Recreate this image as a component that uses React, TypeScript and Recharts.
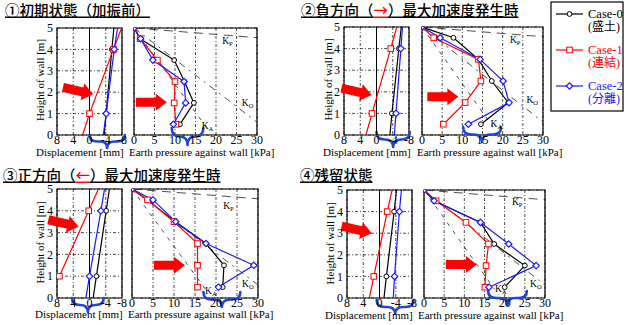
import React from 'react';
import { LineChart, Line, XAxis, YAxis, CartesianGrid, ReferenceLine, ReferenceArea, ReferenceDot } from 'recharts';

// ---------------- data ----------------
const PRESSURE_HEIGHTS = [5, 4.5, 3.5, 2.5, 1.5, 0.5];
const DISP_HEIGHTS = [5, 4, 1, 0];
const DISP_MEASURED = [false, true, true, false];

const DISP_TICKS = [8, 4, 0, -4, -8];
const PRESSURE_TICKS = [0, 5, 10, 15, 20, 25, 30];
const HEIGHT_TICKS = [0, 1, 2, 3, 4, 5];

const CASE_NAMES = ['Case-0', 'Case-1', 'Case-2'];
const CASE_SUBS = ['(盛土)', '(連結)', '(分離)'];

// ① 初期状態
const p1DispCase0 = [-6.0, -5.5, -4.1, -3.6];
const p1DispCase1 = [-7.9, -5.9, 0.0, 1.7];
const p1DispCase2 = [-6.9, -6.1, -4.1, -3.4];
const p1PresCase0 = [0, 1.5, 9.8, 12.3, 14.6, 11.2];
const p1PresCase1 = [0, 1.5, 5.7, 10.0, 9.8, 10.2];
const p1PresCase2 = [0, 1.6, 4.6, 12.2, 12.6, 9.6];

// ② 負方向
const p2DispCase0 = [-6.1, -5.5, -3.8, -3.3];
const p2DispCase1 = [-5.0, -3.5, 1.1, 2.6];
const p2DispCase2 = [-6.4, -6.0, -4.8, -4.4];
const p2PresCase0 = [0, 7.8, 14.0, 17.3, 21.4, 14.6];
const p2PresCase1 = [0, 2.9, 14.0, 14.6, 10.7, 5.3];
const p2PresCase2 = [0, 4.5, 14.4, 20.1, 21.6, 11.5];

// ③ 正方向
const p3DispCase0 = [-4.9, -4.1, -1.7, -0.9];
const p3DispCase1 = [-2.2, 0.2, 7.4, 9.8];
const p3DispCase2 = [-3.7, -2.8, 0.0, 0.9];
const p3PresCase0 = [0, 3.7, 10.2, 17.6, 21.9, 21.6];
const p3PresCase1 = [0, 3.7, 10.0, 15.6, 15.6, 15.6];
const p3PresCase2 = [0, 5.0, 10.4, 17.6, 29.0, 20.6];

// ④ 残留状態
const p4DispCase0 = [-4.2, -3.6, -1.7, -1.1];
const p4DispCase1 = [-3.1, -1.9, 1.4, 2.5];
const p4DispCase2 = [-5.4, -4.9, -3.7, -3.4];
const p4PresCase0 = [0, 2.5, 14.0, 17.4, 25.0, 20.0];
const p4PresCase1 = [0, 3.0, 10.4, 16.0, 15.4, 15.1];
const p4PresCase2 = [0, 2.5, 14.0, 21.0, 27.8, 16.1];

// earth-pressure coefficient reference lines [pressure, height]
const KP_LINE = [[0, 5], [30, 4.55]];
const K0_LINE = [[0, 5], [30, 0.6]];
const KA_LINE = [[0, 5], [17.5, 0.4]];

// ---------------- styles ----------------
const SERIF = '"Liberation Serif", "Times New Roman", serif';
const CJK = '"Noto Sans CJK JP", sans-serif';
const MIXED = '"Liberation Serif", "Noto Sans CJK JP", serif';
const RED = '#ff0000';
const BLUE = '#1a1aff';
const BRACE = '#2345d2';
const COLORS = ['#000000', RED, BLUE];
const KINDS = ['circle', 'square', 'diamond'];
const KEYS = ['c0', 'c1', 'c2'];

const ML = 26, MT = 12, MR = 14, XH = 30;

function Marker({ kind, cx, cy, color }: any) {
  if (kind === 'circle') return <circle cx={cx} cy={cy} r={2.4} fill="#fff" stroke={color} strokeWidth={1} />;
  if (kind === 'square')
    return <rect x={cx - 2.8} y={cy - 2.8} width={5.6} height={5.6} fill="#fff" stroke={color} strokeWidth={1} />;
  const s = 3.2;
  return (
    <path d={`M${cx},${cy - s}L${cx + s},${cy}L${cx},${cy + s}L${cx - s},${cy}Z`} fill="#fff" stroke={color} strokeWidth={1.2} />
  );
}

const dotRenderer = (kind: string, color: string) => (props: any) => {
  const { cx, cy, payload, index } = props;
  if (cx == null || cy == null || (payload && payload.m === false)) return <g key={`e${index}`} />;
  return (
    <g key={`d${index}`}>
      <Marker kind={kind} cx={cx} cy={cy} color={color} />
    </g>
  );
};

function BlockArrow({ cx, cy, angle }: any) {
  const L = 31, hl = 11, hw = 8.5, t = 4.5;
  const pts = [[-L, -t], [-hl, -t], [-hl, -hw], [0, 0], [-hl, hw], [-hl, t], [-L, t]];
  return (
    <polygon
      points={pts.map((p) => p.join(',')).join(' ')}
      transform={`translate(${cx},${cy}) rotate(${angle})`}
      fill={RED}
    />
  );
}

function Brace({ x, width, bottom, top, depth }: any) {
  const x1 = x, x2 = x + width, xm = (x1 + x2) / 2;
  const y0 = bottom + top;
  const h = depth / 2;
  const r = Math.min(h + 1, width / 4);
  const d = `M${x1},${y0} Q${x1},${y0 + h} ${x1 + r},${y0 + h} L${xm - r},${y0 + h} Q${xm},${y0 + h} ${xm},${y0 + depth} Q${xm},${y0 + h} ${xm + r},${y0 + h} L${x2 - r},${y0 + h} Q${x2},${y0 + h} ${x2},${y0}`;
  return <path d={d} fill="none" stroke={BRACE} strokeWidth={2.6} strokeLinecap="round" strokeLinejoin="round" />;
}

function KLabel({ cx, cy, sub }: any) {
  return (
    <text x={cx} y={cy + 3} fontSize={9.5} fontFamily={SERIF} fill="#000">
      K<tspan fontSize={6.5} dy={2}>{sub}</tspan>
    </text>
  );
}

function buildPressureRows(vals: number[][]) {
  return PRESSURE_HEIGHTS.map((h, i) => ({ h, c0: vals[0][i], c1: vals[1][i], c2: vals[2][i] }));
}
function buildDispRows(vals: number[][]) {
  return DISP_HEIGHTS.map((h, i) => ({ h, m: DISP_MEASURED[i], c0: vals[0][i], c1: vals[1][i], c2: vals[2][i] }));
}

function SubPlot({ rect, data, isDisp, arrow, brace, kLabels, showYTicks }: any) {
  const xDomain = isDisp ? [-8, 8] : [0, 30];
  const tickStyle = { fontSize: 12, fill: '#000', fontFamily: SERIF };
  return (
    <div style={{ position: 'absolute', left: rect.x - ML, top: rect.y - MT }}>
      <LineChart
        layout="vertical"
        width={rect.w + ML + MR}
        height={rect.h + MT + XH}
        data={data}
        margin={{ top: MT, right: MR, left: 0, bottom: 0 }}
      >
        <CartesianGrid stroke="#000" strokeWidth={0.7} strokeDasharray="3 2 1 2" />
        <XAxis
          type="number"
          domain={xDomain}
          ticks={isDisp ? DISP_TICKS : PRESSURE_TICKS}
          reversed={isDisp}
          allowDataOverflow
          height={XH}
          axisLine={false}
          tickLine={false}
          tickSize={0}
          tickMargin={0}
          interval={0}
          tick={tickStyle}
        />
        <YAxis
          type="number"
          dataKey="h"
          domain={[0, 5]}
          ticks={HEIGHT_TICKS}
          reversed
          allowDataOverflow
          width={ML}
          axisLine={false}
          tickLine={false}
          tickSize={3}
          tickMargin={1}
          interval={0}
          tick={showYTicks ? tickStyle : false}
        />
        {isDisp && <ReferenceLine x={0} stroke="#000" strokeWidth={1} />}
        {!isDisp && (
          <ReferenceLine
            segment={[{ x: KP_LINE[0][0], y: KP_LINE[0][1] }, { x: KP_LINE[1][0], y: KP_LINE[1][1] }]}
            stroke="#222"
            strokeWidth={0.8}
            strokeDasharray="9 6"
            ifOverflow="hidden"
          />
        )}
        {!isDisp && (
          <ReferenceLine
            segment={[{ x: K0_LINE[0][0], y: K0_LINE[0][1] }, { x: K0_LINE[1][0], y: K0_LINE[1][1] }]}
            stroke="#222"
            strokeWidth={0.8}
            strokeDasharray="7 5 2 5"
            ifOverflow="hidden"
          />
        )}
        {!isDisp && (
          <ReferenceLine
            segment={[{ x: KA_LINE[0][0], y: KA_LINE[0][1] }, { x: KA_LINE[1][0], y: KA_LINE[1][1] }]}
            stroke="#222"
            strokeWidth={0.8}
            strokeDasharray="4 6"
            ifOverflow="hidden"
          />
        )}
        {KEYS.map((k, i) => (
          <Line
            key={k}
            dataKey={k}
            stroke={COLORS[i]}
            strokeWidth={1.2}
            dot={dotRenderer(KINDS[i], COLORS[i])}
            activeDot={false}
            isAnimationActive={false}
          />
        ))}
        <ReferenceArea x1={xDomain[0]} x2={xDomain[1]} y1={0} y2={5} fill="none" fillOpacity={0} stroke="#000" strokeWidth={1.2} ifOverflow="visible" />
        {!isDisp &&
          kLabels.map((kl: any) => (
            <ReferenceDot
              key={kl.sub}
              x={kl.x}
              y={kl.y}
              r={1}
              ifOverflow="visible"
              shape={(p: any) => <KLabel cx={p.cx} cy={p.cy} sub={kl.sub} />}
            />
          ))}
        <ReferenceDot
          x={arrow[0]}
          y={arrow[1]}
          r={1}
          ifOverflow="visible"
          shape={(p: any) => <BlockArrow cx={p.cx} cy={p.cy} angle={isDisp ? 13 : 0} />}
        />
        <ReferenceArea
          x1={brace[0]}
          x2={brace[1]}
          y1={0}
          y2={1}
          ifOverflow="visible"
          shape={(p: any) => (
            <Brace
              x={p.width < 0 ? p.x + p.width : p.x}
              width={Math.abs(p.width)}
              bottom={p.height < 0 ? p.y : p.y + p.height}
              top={brace[2]}
              depth={brace[3]}
            />
          )}
        />
      </LineChart>
    </div>
  );
}

const PANELS = [
  {
    disp: { x: 57, y: 28, w: 65, h: 107 },
    pres: { x: 134, y: 28, w: 123, h: 107 },
    dispVals: [p1DispCase0, p1DispCase1, p1DispCase2],
    presVals: [p1PresCase0, p1PresCase1, p1PresCase2],
    dispArrow: [-0.9, 1.9],
    presArrow: [8.0, 1.53],
    dispBrace: [0, -8.7, 0, 13],
    presBrace: [9.2, 16.9, -7, 17],
    kLabels: [{ sub: 'P', x: 21.5, y: 4.4 }, { sub: 'O', x: 26.3, y: 1.5 }, { sub: 'A', x: 16.5, y: 0.4 }],
    title: [['①初期状態（加振前）', '#000']],
    titlePos: [5, 15.5],
    yTitle: [44, 80],
    xTitles: [[36, 156], [129, 156]],
  },
  {
    disp: { x: 344, y: 27, w: 65, h: 108 },
    pres: { x: 422, y: 27, w: 121, h: 108 },
    dispVals: [p2DispCase0, p2DispCase1, p2DispCase2],
    presVals: [p2PresCase0, p2PresCase1, p2PresCase2],
    dispArrow: [1.2, 1.85],
    presArrow: [9.0, 1.77],
    dispBrace: [0, -8.2, -3, 15],
    presBrace: [10.2, 19.6, -8, 15],
    kLabels: [{ sub: 'P', x: 21.8, y: 4.4 }, { sub: 'O', x: 25.9, y: 1.63 }, { sub: 'A', x: 17, y: 0.5 }],
    title: [['②負方向（', '#000'], ['→', RED], ['）最大加速度発生時', '#000']],
    titlePos: [301, 15.5],
    yTitle: [332, 79.5],
    xTitles: [[323, 156], [417, 156]],
  },
  {
    disp: { x: 57, y: 189, w: 65, h: 109 },
    pres: { x: 132, y: 189, w: 126, h: 109 },
    dispVals: [p3DispCase0, p3DispCase1, p3DispCase2],
    presVals: [p3PresCase0, p3PresCase1, p3PresCase2],
    dispArrow: [2.7, 3.27],
    presArrow: [12.6, 1.5],
    dispBrace: [4.3, -3.5, 0, 14],
    presBrace: [17, 25.8, -6, 15],
    kLabels: [{ sub: 'P', x: 21.7, y: 4.24 }, { sub: 'O', x: 26.2, y: 0.62 }, { sub: 'A', x: 17.4, y: 0.32 }],
    title: [['③正方向（', '#000'], ['←', RED], ['）最大加速度発生時', '#000']],
    titlePos: [3, 180.5],
    yTitle: [44, 242.5],
    xTitles: [[35, 318], [128, 318]],
  },
  {
    disp: { x: 347, y: 190, w: 65, h: 108 },
    pres: { x: 424, y: 190, w: 121, h: 108 },
    dispVals: [p4DispCase0, p4DispCase1, p4DispCase2],
    presVals: [p4PresCase0, p4PresCase1, p4PresCase2],
    dispArrow: [1.9, 3.0],
    presArrow: [13.1, 1.55],
    dispBrace: [0.7, -8.4, 2, 14],
    presBrace: [15.9, 25.5, -7, 14],
    kLabels: [{ sub: 'P', x: 21.8, y: 4.45 }, { sub: 'O', x: 26.3, y: 0.66 }, { sub: 'A', x: 17.6, y: 0.4 }],
    title: [['④残留状態', '#000']],
    titlePos: [300, 180.5],
    yTitle: [334, 243.3],
    xTitles: [[325, 319], [418, 319]],
  },
];

const LEGEND_ROWS = [
  { lineY: 14, nameY: 18, subY: 31 },
  { lineY: 50, nameY: 54, subY: 67 },
  { lineY: 86, nameY: 90, subY: 103 },
];

function Overlay() {
  return (
    <svg width={626} height={325} style={{ position: 'absolute', left: 0, top: 0, pointerEvents: 'none' }}>
      {PANELS.map((p, i) => (
        <g key={`t${i}`}>
          <text x={p.titlePos[0]} y={p.titlePos[1]} fontSize={14.5} fontFamily={CJK} fontWeight={500}>
            {p.title.map((s, j) => (
              <tspan key={j} fill={s[1]} style={{ textDecoration: 'underline' }}>
                {s[0]}
              </tspan>
            ))}
          </text>
          <text
            x={p.yTitle[0]}
            y={p.yTitle[1]}
            transform={`rotate(-90 ${p.yTitle[0]} ${p.yTitle[1]})`}
            textAnchor="middle"
            fontSize={11}
            fontFamily={SERIF}
          >
            Height of wall [m]
          </text>
          <text x={p.xTitles[0][0]} y={p.xTitles[0][1]} fontSize={11} fontFamily={SERIF}>
            Displacement [mm]
          </text>
          <text x={p.xTitles[1][0]} y={p.xTitles[1][1]} fontSize={11} fontFamily={SERIF}>
            Earth pressure against wall [kPa]
          </text>
        </g>
      ))}
      <rect x={551} y={2} width={72} height={109} fill="#fff" stroke="#000" strokeWidth={1.2} />
      {LEGEND_ROWS.map((r, i) => (
        <g key={`l${i}`}>
          <line x1={556} x2={583} y1={r.lineY} y2={r.lineY} stroke={COLORS[i]} strokeWidth={1.2} />
          <Marker kind={KINDS[i]} cx={569.5} cy={r.lineY} color={COLORS[i]} />
          <text x={588} y={r.nameY} fontSize={12.5} fontFamily={MIXED} fill={COLORS[i]}>
            {CASE_NAMES[i]}
          </text>
          <text x={588} y={r.subY} fontSize={12} fontFamily={MIXED} fill={COLORS[i]}>
            {CASE_SUBS[i]}
          </text>
        </g>
      ))}
    </svg>
  );
}

export default function App() {
  return (
    <div style={{ position: 'absolute', left: 0, top: 0, width: 626, height: 325, background: '#fff', overflow: 'hidden' }}>
      {PANELS.map((p, i) => (
        <React.Fragment key={i}>
          <SubPlot
            rect={p.disp}
            data={buildDispRows(p.dispVals)}
            isDisp
            arrow={p.dispArrow}
            brace={p.dispBrace}
            showYTicks
          />
          <SubPlot
            rect={p.pres}
            data={buildPressureRows(p.presVals)}
            isDisp={false}
            arrow={p.presArrow}
            brace={p.presBrace}
            kLabels={p.kLabels}
            showYTicks={false}
          />
        </React.Fragment>
      ))}
      <Overlay />
    </div>
  );
}
